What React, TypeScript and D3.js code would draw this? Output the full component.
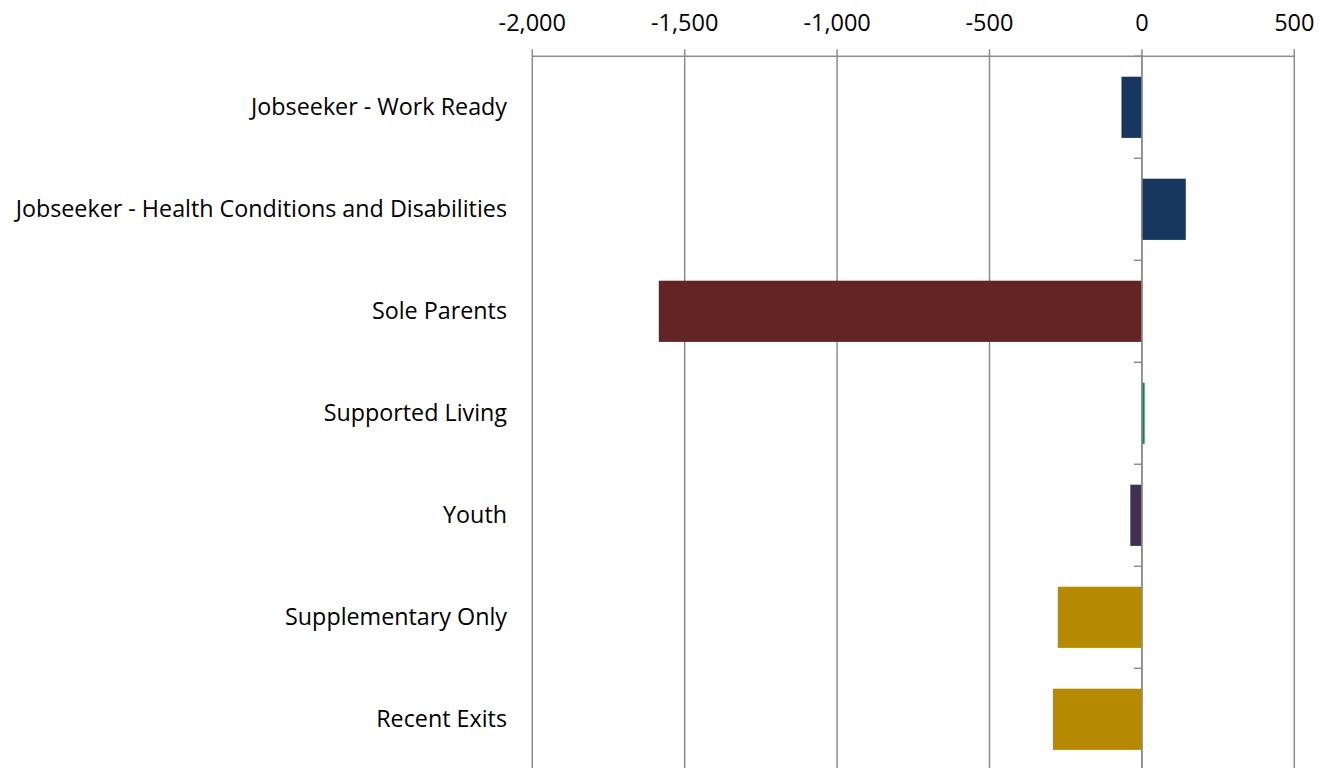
import React from "react";
import * as d3 from "d3";

const categories = [
  "Jobseeker - Work Ready",
  "Jobseeker - Health Conditions and Disabilities",
  "Sole Parents",
  "Supported Living",
  "Youth",
  "Supplementary Only",
  "Recent Exits",
];
const values = [-67, 144, -1585, 9, -38, -276, -292];
const colors = ["#17375E", "#17375E", "#632523", "#0A8A44", "#403152", "#B58A00", "#B58A00"];
const xTicks = [-2000, -1500, -1000, -500, 0, 500];

const W = 1321;
const H = 768;
const left = 532.3;
const right = 1294.3;
const top = 56.3;
const bottom = 770.3;

export default function App() {
  const x = d3.scaleLinear().domain([-2000, 500]).range([left, right]);
  const y = d3.scaleBand<string>().domain(categories).range([top, bottom]).paddingInner(0.4).paddingOuter(0.2);
  const fmt = d3.format(",");
  const font = "'Open Sans', sans-serif";
  const grid = "#8C8C8C";
  const step = y.step();
  return (
    <svg width={W} height={H} style={{ position: "absolute", left: 0, top: 0, background: "#fff" }}>
      {xTicks.map((t) => (
        <g key={t}>
          <line x1={x(t)} x2={x(t)} y1={top - 7} y2={H} stroke={grid} strokeWidth={1.5} />
          <text x={x(t)} y={31} textAnchor="middle" fontFamily={font} fontSize={23.5} fill="#000">
            {fmt(t).replace("\u2212", "-")}
          </text>
        </g>
      ))}
      <line x1={left} x2={right} y1={top} y2={top} stroke={grid} strokeWidth={1.5} />
      {categories.map((c, i) => (
        <line key={"t" + i} x1={x(0) - 8} x2={x(0)} y1={top + i * step} y2={top + i * step} stroke={grid} strokeWidth={1.5} />
      ))}
      {categories.map((c, i) => (
        <rect
          key={c}
          x={Math.min(x(0), x(values[i]))}
          y={y(c)}
          width={Math.abs(x(values[i]) - x(0))}
          height={y.bandwidth()}
          fill={colors[i]}
        />
      ))}
      <line x1={x(0)} x2={x(0)} y1={top} y2={H} stroke={grid} strokeWidth={1.5} />
      {categories.map((c) => (
        <text
          key={"l" + c}
          x={507}
          y={(y(c) as number) + y.bandwidth() / 2}
          dy="0.35em"
          textAnchor="end"
          fontFamily={font}
          fontSize={23.3}
          fill="#000"
        >
          {c}
        </text>
      ))}
    </svg>
  );
}
